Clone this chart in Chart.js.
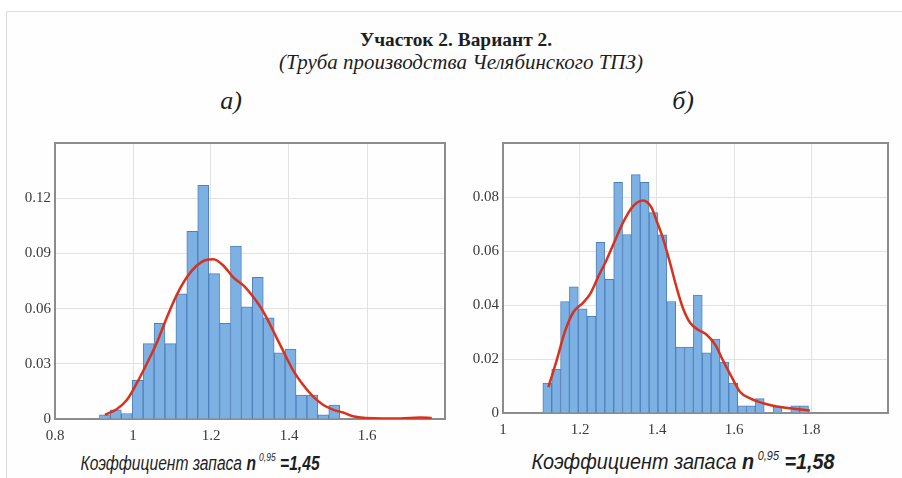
<!DOCTYPE html>
<html><head><meta charset="utf-8">
<script src="https://cdn.jsdelivr.net/npm/chart.js@4/dist/chart.umd.min.js"></script>
<style>
html,body{margin:0;padding:0;background:#fff;}
#wrap{position:relative;width:902px;height:478px;overflow:hidden;background:#fff;}
#panel{position:absolute;left:6px;top:11px;width:900px;height:470px;border-left:1px solid #dcdcdc;border-top:1px solid #dcdcdc;background:#fefefe;}
.t{position:absolute;white-space:nowrap;transform:translate(-50%,-50%);color:#1e1e1e;}
#title{left:456px;top:40px;font:bold 19px "Liberation Serif",serif;transform:translate(-50%,-50%) scaleX(1.02);}
#sub{left:461px;top:62px;font:italic 21px "Liberation Serif",serif;}
#la{left:231px;top:101px;font:italic 26px "Liberation Serif",serif;}
#lb{left:683px;top:101px;font:italic 26px "Liberation Serif",serif;}
.xt{font-family:"Liberation Sans",sans-serif;font-style:italic;color:#1e1e1e;}
.xt sup{font-size:0.55em;font-weight:normal;vertical-align:0.75em;margin-left:4px;}
#xl{left:200px;top:463px;font-size:20px;transform:translate(-50%,-50%) scaleX(0.78);}
#xr{left:683px;top:462px;font-size:22px;transform:translate(-50%,-50%) scaleX(0.9);}
canvas{position:absolute;}
#c1{left:0;top:130px;}
#c2{left:455px;top:130px;}
</style></head>
<body><div id="wrap">
<div id="panel"></div>
<div class="t" id="title">Участок 2. Вариант 2.</div>
<div class="t" id="sub">(Труба производства Челябинского ТПЗ)</div>
<div class="t" id="la">а)</div>
<div class="t" id="lb">б)</div>
<canvas id="c1" width="455" height="313" style="width:455px;height:313px"></canvas>
<canvas id="c2" width="445" height="307" style="width:445px;height:307px"></canvas>
<div class="t xt" id="xl">Коэффициент запаса <b>n</b><sup>0,95</sup> <b>=1,45</b></div>
<div class="t xt" id="xr">Коэффициент запаса <b>n</b><sup>0,95</sup> <b>=1,58</b></div>
</div>
<script>
// ---- Chart a) ----
const binsA = [0.928,0.956,0.984,1.012,1.040,1.068,1.096,1.124,1.152,1.180,1.208,1.236,1.264,1.292,1.320,1.348,1.376,1.404,1.432,1.460,1.488,1.516];
const freqA = [0.0023,0.005,0.003,0.021,0.041,0.052,0.041,0.068,0.102,0.127,0.079,0.052,0.094,0.061,0.077,0.055,0.036,0.038,0.013,0.013,0.0023,0.0076];
const curveAx = [0.928,0.958,0.984,1.009,1.035,1.061,1.086,1.112,1.138,1.163,1.185,1.206,1.232,1.257,1.283,1.308,1.334,1.360,1.385,1.411,1.437,1.462,1.488,1.514,1.539,1.564,1.641,1.685,1.736,1.766];
const curveAy = [0.0023,0.0053,0.0103,0.0192,0.0299,0.0414,0.0548,0.0673,0.077,0.0833,0.0863,0.0868,0.0833,0.077,0.0726,0.0664,0.0584,0.0477,0.037,0.0263,0.0183,0.0121,0.0076,0.005,0.0035,0.0015,0.0003,0.0003,0.0008,0.0005];
const xTicksA = [0.8,1,1.2,1.4,1.6];
const yTicksA = [0,0.03,0.06,0.09,0.12];

// ---- Chart б) ----
const binsB = [1.115,1.138,1.161,1.184,1.207,1.230,1.253,1.276,1.299,1.322,1.345,1.368,1.391,1.414,1.437,1.460,1.483,1.506,1.529,1.552,1.575,1.598,1.621,1.644,1.667,1.690,1.713,1.736,1.759,1.782];
const freqB = [0.0111,0.0163,0.0413,0.0467,0.0386,0.0358,0.0632,0.0495,0.0854,0.0661,0.0883,0.0854,0.0742,0.066,0.0413,0.0244,0.0244,0.0437,0.0223,0.0274,0.0189,0.0111,0.0027,0.0027,0.0053,0,0.0024,0,0.0027,0.0027];
const curveBx = [1.118,1.139,1.161,1.183,1.209,1.226,1.248,1.269,1.291,1.312,1.338,1.364,1.386,1.399,1.416,1.434,1.451,1.468,1.486,1.507,1.529,1.551,1.572,1.594,1.616,1.642,1.676,1.711,1.745,1.797];
const curveBy = [0.0096,0.0193,0.0302,0.0374,0.041,0.044,0.0507,0.0567,0.0639,0.0706,0.0766,0.0787,0.076,0.0712,0.0645,0.0555,0.0464,0.0386,0.0334,0.0308,0.029,0.0253,0.0193,0.0133,0.0078,0.0054,0.0036,0.0024,0.0018,0.0009];
const xTicksB = [1,1.2,1.4,1.6,1.8];
const yTicksB = [0,0.02,0.04,0.06,0.08];

Chart.defaults.font.family = '"Liberation Serif", serif';
Chart.defaults.font.size = 15;
Chart.defaults.color = '#3a3a3a';

const frame = {
  id: 'frame',
  beforeDatasetsDraw(chart) {
    const {ctx, chartArea: a} = chart;
    ctx.save();
    ctx.strokeStyle = '#8c8c8c';
    ctx.lineWidth = 2;
    ctx.strokeRect(a.left, a.top, a.right - a.left, a.bottom - a.top);
    ctx.restore();
  }
};

function makeChart(id, bins, freq, cx, cy, xmin, xmax, xstep, xshow, ymax, ystep, yshow, yW, padR) {
  const near = (arr, v) => arr.some(t => Math.abs(t - v) < 1e-6);
  return new Chart(document.getElementById(id), {
    type: 'bar',
    data: {
      datasets: [
        {
          type: 'line',
          data: cx.map((x, i) => ({x, y: cy[i]})),
          borderColor: '#d8321c',
          borderWidth: 2.5,
          pointRadius: 0,
          cubicInterpolationMode: 'monotone',
          fill: false,
          order: 0
        },
        {
          type: 'bar',
          data: bins.map((x, i) => ({x, y: freq[i]})),
          backgroundColor: '#7db1e3',
          borderColor: '#4f80bd',
          borderWidth: 1,
          borderSkipped: 'bottom',
          barPercentage: 1,
          categoryPercentage: 1,
          order: 1
        }
      ]
    },
    options: {
      responsive: false,
      animation: false,
      layout: {padding: {top: 7, right: padR, left: 0, bottom: 0}},
      plugins: {legend: {display: false}, tooltip: {enabled: false}},
      scales: {
        x: {
          type: 'linear', min: xmin, max: xmax, offset: false,
          grid: {color: '#e2e2e2', lineWidth: 1, drawTicks: false, offset: false},
          border: {display: false},
          ticks: {stepSize: xstep, padding: 8, maxRotation: 0,
            callback: v => near(xshow, v) ? String(+v.toFixed(1)) : ''},
          afterFit: s => { s.height = 24; }
        },
        y: {
          min: 0, max: ymax,
          grid: {color: '#e2e2e2', lineWidth: 1, drawTicks: false},
          border: {display: false},
          ticks: {stepSize: ystep, padding: 4,
            callback: v => near(yshow, v) ? String(+v.toFixed(2)) : ''},
          afterFit: s => { s.width = yW; }
        }
      }
    },
    plugins: [frame]
  });
}

makeChart('c1', binsA, freqA, curveAx, curveAy, 0.8, 1.8, 0.2, xTicksA, 0.15, 0.03, yTicksA, 55, 10);
makeChart('c2', binsB, freqB, curveBx, curveBy, 1.0, 2.0, 0.2, xTicksB, 0.1, 0.02, yTicksB, 48, 12);
</script>
</body></html>
